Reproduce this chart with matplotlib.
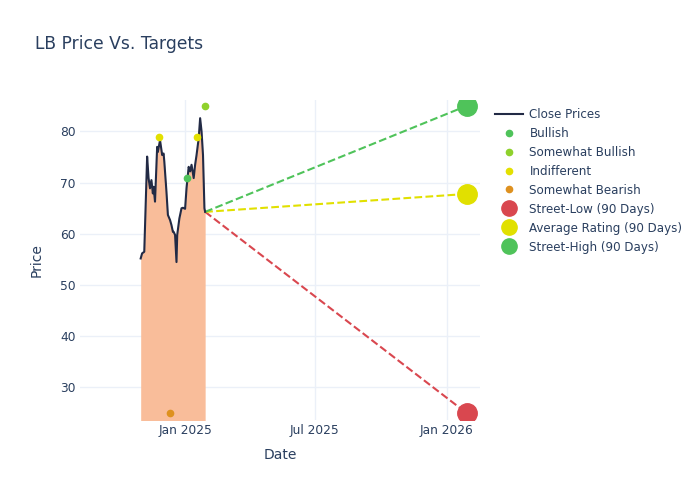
import pandas as pd
import matplotlib
matplotlib.use('Agg')
import matplotlib.pyplot as plt
import matplotlib.dates as mdates
from matplotlib.lines import Line2D

# Close prices
dates = pd.to_datetime([
    '2024-10-31', '2024-11-02', '2024-11-05', '2024-11-09', '2024-11-11',
    '2024-11-13', '2024-11-15', '2024-11-17', '2024-11-18', '2024-11-20',
    '2024-11-23', '2024-11-24', '2024-11-27', '2024-11-30', '2024-12-02',
    '2024-12-03', '2024-12-06', '2024-12-08', '2024-12-11', '2024-12-13',
    '2024-12-15', '2024-12-16', '2024-12-18', '2024-12-20', '2024-12-21',
    '2024-12-24', '2024-12-27', '2024-12-29', '2025-01-01', '2025-01-03',
    '2025-01-06', '2025-01-08', '2025-01-10', '2025-01-13', '2025-01-15',
    '2025-01-17', '2025-01-20', '2025-01-22', '2025-01-24', '2025-01-26',
    '2025-01-28', '2025-01-29'])
prices = [55.2, 56.2, 56.5, 75.1, 70.9,
          68.9, 70.5, 67.9, 69.2, 66.3,
          77.0, 76.0, 78.3, 75.4, 75.7,
          74.1, 68.2, 63.7, 62.7, 61.7,
          60.4, 60.4, 59.8, 54.5, 59.8,
          63.0, 65.0, 65.1, 64.9, 68.9,
          73.1, 72.2, 73.5, 70.9, 73.5,
          75.4, 78.7, 82.6, 80.0, 75.4,
          65.0, 64.3]

# analyst ratings
rating_names = ['Bullish', 'Somewhat Bullish', 'Indifferent', 'Somewhat Bearish']
rating_dates = [['2025-01-03'], ['2025-01-29'], ['2024-11-26', '2025-01-17'], ['2024-12-11']]
rating_targets = [[71], [85], [79, 79], [25]]
rating_colors = ['#4fc35a', '#8fd12c', '#e3e000', '#de911f']

# 90 day street targets
target_date = pd.Timestamp('2026-01-29')
target_names = ['Street-Low (90 Days)', 'Average Rating (90 Days)', 'Street-High (90 Days)']
target_values = [25.0, 67.8, 85.0]
target_colors = ['#d9474f', '#e1e000', '#4fc35a']

text_col = '#2a3f5f'
grid_col = '#ebf0f8'

fig = plt.figure(figsize=(7, 5), dpi=100)
ax = fig.add_axes([0.114, 0.16, 0.572, 0.64])

ax.fill_between(dates, prices, 0, color='#f9bd9a', lw=0, zorder=1)
ax.plot(dates, prices, color='#222a45', lw=1.5, zorder=3)

for name, val, col in zip(target_names, target_values, target_colors):
    ax.plot([dates[-1], target_date], [prices[-1], val], ls='--', color=col, lw=1.5, zorder=2)
    ax.plot([target_date], [val], 'o', ms=14, color=col, zorder=4)

for name, d, t, col in zip(rating_names, rating_dates, rating_targets, rating_colors):
    ax.plot(pd.to_datetime(d), t, 'o', ms=4.5, color=col, lw=0, zorder=4)

ax.set_xlim(pd.Timestamp('2024-08-07'), pd.Timestamp('2026-02-17'))
ax.set_ylim(23.65, 86.15)
ax.set_yticks([30, 40, 50, 60, 70, 80])
ax.set_xticks(pd.to_datetime(['2025-01-01', '2025-07-01', '2026-01-01']))
ax.xaxis.set_major_formatter(mdates.DateFormatter('%b %Y'))
ax.grid(True, color=grid_col, lw=1, zorder=0)
ax.set_axisbelow(True)
for s in ax.spines.values():
    s.set_visible(False)
ax.tick_params(length=0, labelsize=8.8, labelcolor=text_col, pad=3)
ax.set_xlabel('Date', fontsize=10, color=text_col, labelpad=8)
ax.set_ylabel('Price', fontsize=10, color=text_col, labelpad=12)

fig.text(0.05, 0.912, 'LB Price Vs. Targets', fontsize=12.3, color=text_col, va='center')

handles = [Line2D([], [], color='#222a45', lw=1.5)]
for col in rating_colors:
    handles.append(Line2D([], [], ls='', marker='o', ms=4.5, color=col))
for col in target_colors:
    handles.append(Line2D([], [], ls='', marker='o', ms=11, color=col))
labels = ['Close Prices'] + rating_names + target_names
leg = fig.legend(handles, labels, loc='upper left', bbox_to_anchor=(0.7, 0.794),
                 frameon=False, fontsize=8.6, labelspacing=0.5, handlelength=2.4,
                 handletextpad=0.5, borderaxespad=0)
for t in leg.get_texts():
    t.set_color(text_col)

fig.savefig('out.png', dpi=100)
